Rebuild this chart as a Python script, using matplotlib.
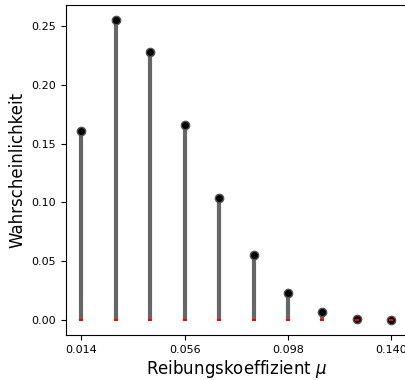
import numpy as np
import matplotlib
matplotlib.use("Agg")
import matplotlib.pyplot as plt

mu = [0.014, 0.028, 0.042, 0.056, 0.070, 0.084, 0.098, 0.112, 0.126, 0.140]
prob = [0.161, 0.255, 0.228, 0.166, 0.104, 0.055, 0.023, 0.007, 0.001, 0.0002]
xticks = [0.014, 0.056, 0.098, 0.140]

fig = plt.figure(figsize=(4.06, 3.8), dpi=100)
ax = fig.add_axes([0.1626, 0.1184, 0.839, 0.868])

ax.vlines(mu, 0, prob, color="#666666", lw=3)
ax.plot(mu, prob, "o", color="black", mec="#555555", ms=6, mew=1)
ax.plot(mu, np.zeros(len(mu)), "_", color="red", ms=3, mew=1.5)

ax.set_xticks(xticks)
ax.set_xticklabels(["%.3f" % t for t in xticks])
ax.set_yticks([0, 0.05, 0.10, 0.15, 0.20, 0.25])
ax.tick_params(labelsize=8)
ax.spines["right"].set_color("#cccccc")
ax.set_xlabel(r"Reibungskoeffizient $\mu$", fontsize=12, labelpad=2)
ax.set_ylabel("Wahrscheinlichkeit", fontsize=12)

fig.savefig("out.png", dpi=100)
